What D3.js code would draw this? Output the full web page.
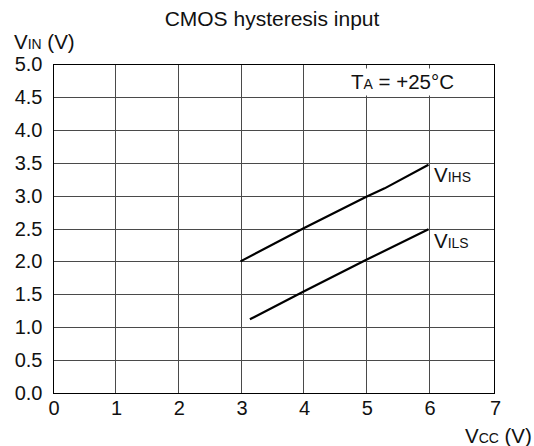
<!DOCTYPE html>
<html>
<head>
<meta charset="utf-8">
<script src="https://cdn.jsdelivr.net/npm/d3@7/dist/d3.min.js"></script>
<style>
  html, body { margin: 0; padding: 0; background: #fff; }
  svg { display: block; }
  text { font-family: "Liberation Sans", Arial, Helvetica, sans-serif; fill: #111; }
</style>
</head>
<body>
<svg id="chart" width="534" height="446"></svg>
<script>
// Axis ticks
const vccTicks = [0, 1, 2, 3, 4, 5, 6, 7];
const vinTicks = [0, 0.5, 1, 1.5, 2, 2.5, 3, 3.5, 4, 4.5, 5];

// Schmitt-trigger thresholds vs supply voltage (TA = +25°C)
const vihsVcc = [3, 4, 5, 5.3, 6];
const vihsVin = [2.0, 2.5, 2.98, 3.11, 3.47];
const vilsVcc = [3.15, 4, 5, 6];
const vilsVin = [1.12, 1.54, 2.02, 2.49];

const svg = d3.select("#chart");

const x = d3.scaleLinear().domain([0, 6, 7]).range([52.5, 428.5, 494]);
const y = d3.scaleLinear().domain([0, 5]).range([393, 64]);
const px = v => Math.round(x(v)) + 0.5;
const py = v => Math.round(y(v)) + 0.5;

// Grid
const grid = svg.append("g").attr("shape-rendering", "crispEdges");
grid.selectAll("line.h").data(vinTicks.slice(1, -1)).join("line")
  .attr("x1", px(0)).attr("x2", px(7))
  .attr("y1", d => py(d)).attr("y2", d => py(d))
  .attr("stroke", "#4a4a4a").attr("stroke-width", 1);
grid.selectAll("line.v").data(vccTicks.slice(1, -1)).join("line")
  .attr("y1", py(0)).attr("y2", py(5))
  .attr("x1", d => px(d)).attr("x2", d => px(d))
  .attr("stroke", "#4a4a4a").attr("stroke-width", 1);

// Ambient temperature label on a white patch
svg.append("rect")
  .attr("x", px(4) + 20).attr("y", py(5) + 4)
  .attr("width", px(7) - px(4) - 22).attr("height", 27)
  .attr("fill", "#fff");
const ta = svg.append("text").attr("x", 351).attr("y", 88.5).attr("font-size", 20.5);
ta.append("tspan").text("T");
ta.append("tspan").attr("font-size", 14).text("A");
ta.append("tspan").text(" = +25°C");

// Frame
svg.append("rect")
  .attr("x", px(0)).attr("y", py(5))
  .attr("width", px(7) - px(0)).attr("height", py(0) - py(5))
  .attr("fill", "none").attr("stroke", "#000").attr("stroke-width", 1)
  .attr("shape-rendering", "crispEdges");

// Tick labels
svg.append("g").selectAll("text").data(vinTicks).join("text")
  .attr("x", 42.5).attr("y", d => y(d)).attr("dy", "0.35em")
  .attr("text-anchor", "end").attr("font-size", 20)
  .text(d => d.toFixed(1));
svg.append("g").selectAll("text").data(vccTicks).join("text")
  .attr("x", d => x(d) + 1.5).attr("y", 414.5)
  .attr("text-anchor", "middle").attr("font-size", 20)
  .text(d => d);

// Curves
const line = d3.line().x(d => x(d[0])).y(d => y(d[1]));
svg.append("path").datum(d3.zip(vihsVcc, vihsVin)).attr("d", line)
  .attr("fill", "none").attr("stroke", "#000").attr("stroke-width", 2.2);
svg.append("path").datum(d3.zip(vilsVcc, vilsVin)).attr("d", line)
  .attr("fill", "none").attr("stroke", "#000").attr("stroke-width", 2.2);

// Curve labels
function subLabel(tx, ty, main, sub, size) {
  const t = svg.append("text").attr("x", tx).attr("y", ty).attr("font-size", size);
  t.append("tspan").text(main);
  t.append("tspan").attr("font-size", size * 0.68).text(sub);
  return t;
}
subLabel(434, 181.5, "V", "IHS", 20.5);
subLabel(434, 247.5, "V", "ILS", 20.5);

// Axis titles
subLabel(14, 48.5, "V", "IN", 20.5).append("tspan").text(" (V)");
subLabel(465, 442.5, "V", "CC", 20.5).append("tspan").text(" (V)");

// Title
svg.append("text").attr("x", 272).attr("y", 26)
  .attr("text-anchor", "middle").attr("font-size", 21)
  .text("CMOS hysteresis input");
</script>
</body>
</html>
